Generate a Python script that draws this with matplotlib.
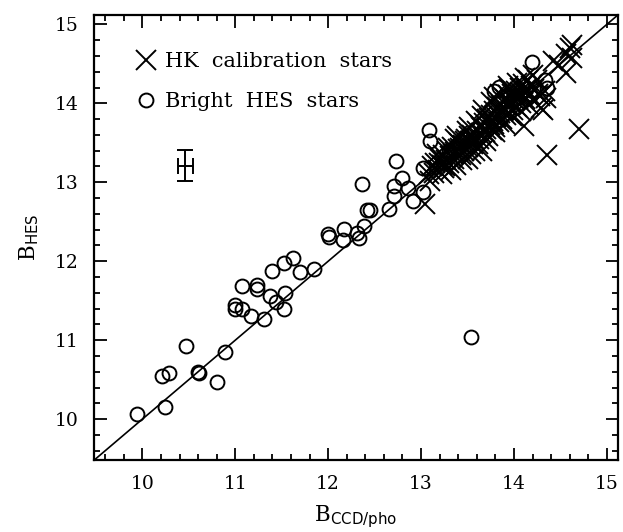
"""
Comparação B_HES vs B_CCD/pho: estrelas de calibração HK e estrelas brilhantes do HES.
"""

import matplotlib
matplotlib.use("Agg")
import matplotlib.pyplot as plt
from matplotlib.ticker import MultipleLocator

# --- dados ---
hk_x = [
    13.04, 13.08, 13.12, 13.15, 13.18, 13.20, 13.22, 13.24, 13.25, 13.27,
    13.28, 13.30, 13.31, 13.33, 13.35, 13.36, 13.38, 13.40, 13.41, 13.43,
    13.45, 13.46, 13.48, 13.50, 13.51, 13.53, 13.55, 13.56, 13.58, 13.60,
    13.62, 13.63, 13.65, 13.66, 13.68, 13.70, 13.71, 13.72, 13.74, 13.75,
    13.76, 13.77, 13.79, 13.80, 13.81, 13.82, 13.84, 13.85, 13.86, 13.87,
    13.89, 13.90, 13.91, 13.93, 13.94, 13.95, 13.97, 13.98, 13.99, 14.00,
    14.02, 14.03, 14.05, 14.06, 14.08, 14.09, 14.10, 14.11, 14.12, 14.14,
    14.15, 14.17, 14.18, 14.20, 14.22, 14.25, 14.28, 14.29, 14.31, 14.33,
    14.35, 14.36, 14.42, 14.49, 14.56, 14.56, 14.60, 14.62, 14.62, 14.70,
    13.14, 13.19, 13.26, 13.34, 13.42, 13.47, 13.52, 13.57, 13.64, 13.69,
    13.73, 13.78, 13.83, 13.88, 13.92, 13.96, 14.01, 14.04, 14.07, 14.13,
    13.10, 13.17, 13.23, 13.29, 13.32, 13.39, 13.44, 13.49, 13.54, 13.59,
    13.61, 13.67, 13.70, 13.75, 13.80, 13.85, 13.90, 13.94, 13.98, 14.03,
    14.08, 14.12, 14.16, 14.21, 14.26, 13.36, 13.52, 13.66, 13.78, 13.95,
]
hk_y = [
    12.72, 13.10, 13.20, 13.25, 13.15, 13.30, 13.22, 13.35, 13.18, 13.28,
    13.40, 13.25, 13.33, 13.45, 13.30, 13.38, 13.22, 13.42, 13.50, 13.35,
    13.47, 13.40, 13.55, 13.45, 13.30, 13.52, 13.60, 13.48, 13.40, 13.65,
    13.55, 13.72, 13.62, 13.39, 13.75, 13.68, 13.80, 13.58, 13.72, 13.85,
    13.66, 13.78, 13.90, 13.70, 13.83, 13.95, 13.76, 13.88, 13.98, 13.80,
    13.92, 14.05, 13.85, 13.96, 14.10, 13.88, 14.00, 14.12, 13.92, 14.05,
    14.15, 13.95, 14.08, 14.20, 14.00, 14.12, 14.25, 13.71, 14.05, 14.15,
    14.30, 14.10, 14.22, 14.04, 14.18, 14.30, 14.09, 13.94, 13.92, 14.15,
    14.07, 13.34, 14.53, 14.48, 14.38, 14.63, 14.70, 14.74, 14.57, 13.67,
    13.12, 13.24, 13.20, 13.36, 13.44, 13.52, 13.58, 13.55, 13.70, 13.64,
    13.82, 13.74, 13.86, 13.90, 14.00, 14.02, 14.10, 14.06, 14.14, 14.18,
    13.02, 13.36, 13.10, 13.44, 13.15, 13.58, 13.28, 13.65, 13.36, 13.78,
    13.48, 13.92, 13.52, 14.02, 13.64, 14.12, 13.74, 14.22, 13.84, 14.26,
    13.90, 14.32, 13.98, 14.36, 14.12, 13.55, 13.70, 13.84, 14.08, 14.18,
]

hes_x = [
    9.94, 10.24, 10.21, 10.29, 10.60, 10.61, 10.80, 10.47, 10.89, 11.00,
    11.00, 11.07, 11.17, 11.31, 11.07, 11.23, 11.23, 11.37, 11.44, 11.52,
    11.54, 11.39, 11.52, 11.62, 11.70, 11.85, 12.01, 12.00, 12.17, 12.16,
    12.31, 12.33, 12.39, 12.42, 12.45, 12.36, 12.66, 12.71, 12.71, 12.79,
    12.73, 12.86, 12.91, 13.02, 13.09, 13.10, 13.02, 14.19, 14.36, 14.33,
    13.79, 13.84, 14.00, 13.30, 13.25, 13.54,
]
hes_y = [
    10.06, 10.15, 10.55, 10.58, 10.60, 10.59, 10.47, 10.93, 10.85, 11.45,
    11.39, 11.39, 11.31, 11.27, 11.69, 11.70, 11.65, 11.56, 11.48, 11.39,
    11.60, 11.87, 11.98, 12.04, 11.86, 11.90, 12.31, 12.35, 12.41, 12.27,
    12.36, 12.30, 12.45, 12.65, 12.65, 12.98, 12.66, 12.82, 12.95, 13.05,
    13.27, 12.93, 12.76, 12.88, 13.66, 13.52, 13.18, 14.52, 14.20, 14.30,
    14.15, 14.21, 14.05, 13.40, 13.25, 11.04,
]

# barra de erro típica
err_x = [10.46]
err_y = [13.21]
err_dx = [0.08]
err_dy = [0.20]

LIMS = (9.48, 15.12)


def main():
    plt.rcParams["font.family"] = ["DejaVu Serif"]
    plt.rcParams["mathtext.fontset"] = "dejavuserif"

    fig = plt.figure(figsize=(6.23, 5.32), dpi=100)
    ax = fig.add_axes([0.151, 0.135, 0.841, 0.837])

    ax.axline((10, 10), slope=1, color="black", linewidth=1.2, zorder=1)

    ax.plot(hk_x, hk_y, linestyle="none", marker="x", markersize=14,
            markeredgewidth=1.4, color="black", label="HK  calibration  stars")
    ax.plot(hes_x, hes_y, linestyle="none", marker="o", markersize=10,
            markeredgewidth=1.4, markerfacecolor="none", markeredgecolor="black",
            label="Bright  HES  stars")

    ax.errorbar(err_x, err_y, xerr=err_dx, yerr=err_dy, fmt="none",
                ecolor="black", elinewidth=1.4, capsize=6, capthick=1.4)

    ax.set_xlim(LIMS)
    ax.set_ylim(LIMS)

    for axis in (ax.xaxis, ax.yaxis):
        axis.set_major_locator(MultipleLocator(1))
        axis.set_minor_locator(MultipleLocator(0.2))
    ax.tick_params(which="both", direction="in", top=True, right=True,
                   width=1.3, labelsize=13.5)
    ax.tick_params(which="major", length=9, pad=11)
    ax.tick_params(which="minor", length=4.5)
    for s in ax.spines.values():
        s.set_linewidth(1.6)

    ax.set_xlabel(r"B$_{\mathsf{CCD/pho}}$", fontsize=15.5, labelpad=7)
    ax.set_ylabel(r"B$_{\mathsf{HES}}$", fontsize=15.5, labelpad=10)

    ax.legend(loc="upper left", frameon=False, fontsize=15, handletextpad=0.2,
              borderaxespad=0.0, labelspacing=1.0, handlelength=1.4,
              bbox_to_anchor=(0.055, 0.935))

    fig.savefig("out.png", dpi=100)
    plt.close(fig)


if __name__ == "__main__":
    main()
